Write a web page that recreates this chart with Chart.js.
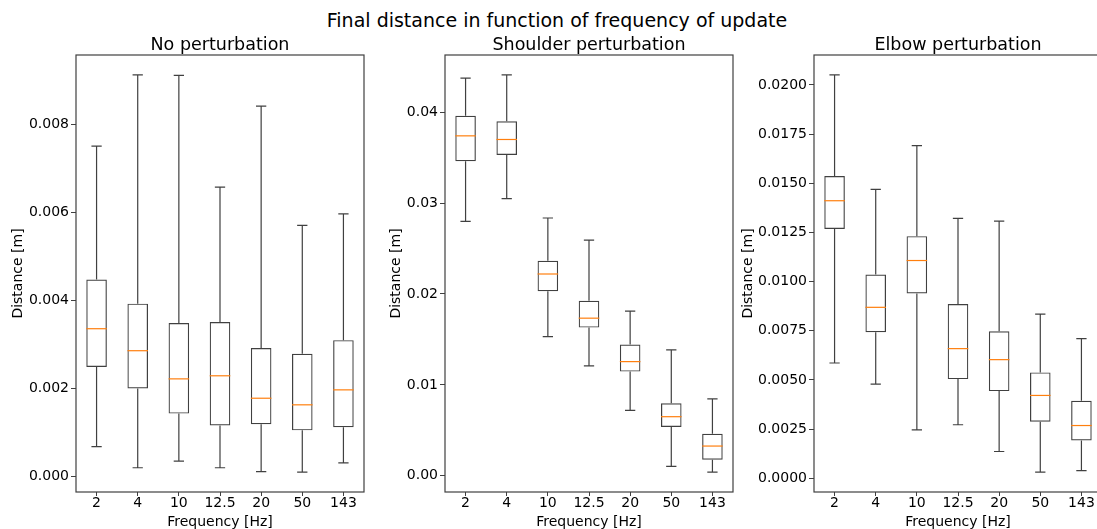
<!DOCTYPE html>
<html>
<head>
<meta charset="utf-8">
<script src="https://cdn.jsdelivr.net/npm/chart.js@4.4.0/dist/chart.umd.min.js"></script>
<style>
    body{
        margin:0;
        width:1097px;
        height:529px;
        overflow:hidden;
        position:relative;
        background:#fff;
        font-family:"DejaVu Sans", sans-serif;
    }
    #suptitle{
        position:absolute;
        top:9px;
        left:0;
        width:1114px;
        text-align:center;
        font-size:19px;
        color:#000;
    }
    .panel{ position:absolute; top:0; width:369px; height:529px; }
</style>
</head>
<body>
<div id="suptitle">Final distance in function of frequency of update</div>
<div class="panel" style="left:0px"><canvas id="chart1" width="369" height="529"></canvas></div>
<div class="panel" style="left:369px"><canvas id="chart2" width="369" height="529"></canvas></div>
<div class="panel" style="left:738px"><canvas id="chart3" width="369" height="529"></canvas></div>

<script>
    // update frequencies (x categories)
    const freqLabels = ['2', '4', '10', '12.5', '20', '50', '143']

    // No perturbation: whisker ends, quartiles, median
    const noMin = [0.00068, 0.00020, 0.00035, 0.00020, 0.00011, 0.00010, 0.00031]
    const noQ1  = [0.00249, 0.00200, 0.00143, 0.00116, 0.00119, 0.00105, 0.00112]
    const noMed = [0.00336, 0.00286, 0.00222, 0.00229, 0.00178, 0.00163, 0.00197]
    const noQ3  = [0.00448, 0.00393, 0.00349, 0.00351, 0.00292, 0.00279, 0.00310]
    const noMax = [0.00751, 0.00913, 0.00912, 0.00658, 0.00842, 0.00571, 0.00597]
    const noTicks = [0, 0.002, 0.004, 0.006, 0.008]

    // Shoulder perturbation
    const shMin = [0.0280, 0.0305, 0.0153, 0.0121, 0.0072, 0.00103, 0.0004]
    const shQ1  = [0.0346, 0.0353, 0.0203, 0.0163, 0.01146, 0.00536, 0.00176]
    const shMed = [0.0374, 0.0370, 0.0222, 0.01734, 0.01256, 0.0065, 0.00327]
    const shQ3  = [0.0396, 0.0390, 0.02365, 0.01925, 0.01444, 0.00797, 0.00463]
    const shMax = [0.04375, 0.04411, 0.02836, 0.02593, 0.01811, 0.01385, 0.00845]
    const shTicks = [0, 0.01, 0.02, 0.03, 0.04]

    // Elbow perturbation
    const elMin = [0.00586, 0.00479, 0.00246, 0.00272, 0.00136, 0.00031, 0.00039]
    const elQ1  = [0.01267, 0.00742, 0.00939, 0.00504, 0.00443, 0.00287, 0.00192]
    const elMed = [0.01411, 0.00869, 0.01107, 0.00659, 0.00603, 0.00421, 0.00268]
    const elQ3  = [0.01537, 0.01036, 0.01231, 0.00886, 0.00747, 0.00538, 0.00394]
    const elMax = [0.02051, 0.01469, 0.01691, 0.01321, 0.01307, 0.00834, 0.0071]
    const elTicks = [0, 0.0025, 0.005, 0.0075, 0.01, 0.0125, 0.015, 0.0175, 0.02]

    const lineColor = '#404040'
    const medianColor = '#ff7f0e'
    const fontFamily = '"DejaVu Sans", sans-serif'

    function makePanel(id, title, mins, q1, med, q3, maxs, ticks, decimals, yTitlePad) {
        const lo = Math.min(...mins), hi = Math.max(...maxs)
        const margin = (hi - lo) * 0.05

        // whiskers, caps, medians, frame and panel title
        const boxPlugin = {
            id: 'boxExtras',
            afterDatasetsDraw(chart) {
                const ctx = chart.ctx
                const x = chart.scales.x, y = chart.scales.y
                const meta = chart.getDatasetMeta(0)
                ctx.save()
                meta.data.forEach((bar, i) => {
                    const cx = bar.x
                    const half = bar.width / 2
                    ctx.strokeStyle = lineColor
                    ctx.lineWidth = 1.2
                    ctx.beginPath()
                    ctx.moveTo(cx, y.getPixelForValue(q3[i]))
                    ctx.lineTo(cx, y.getPixelForValue(maxs[i]))
                    ctx.moveTo(cx, y.getPixelForValue(q1[i]))
                    ctx.lineTo(cx, y.getPixelForValue(mins[i]))
                    ctx.moveTo(cx - half / 2, y.getPixelForValue(maxs[i]))
                    ctx.lineTo(cx + half / 2, y.getPixelForValue(maxs[i]))
                    ctx.moveTo(cx - half / 2, y.getPixelForValue(mins[i]))
                    ctx.lineTo(cx + half / 2, y.getPixelForValue(mins[i]))
                    ctx.stroke()
                    ctx.strokeStyle = medianColor
                    ctx.lineWidth = 1.2
                    ctx.beginPath()
                    ctx.moveTo(cx - half, y.getPixelForValue(med[i]))
                    ctx.lineTo(cx + half, y.getPixelForValue(med[i]))
                    ctx.stroke()
                })
                const a = chart.chartArea
                ctx.strokeStyle = lineColor
                ctx.lineWidth = 1.2
                ctx.strokeRect(a.left, a.top, a.right - a.left, a.bottom - a.top)
                ctx.fillStyle = '#000'
                ctx.font = '17.5px ' + fontFamily
                ctx.textAlign = 'center'
                ctx.textBaseline = 'alphabetic'
                ctx.fillText(title, (a.left + a.right) / 2, a.top - 5)
                ctx.restore()
            }
        }

        return new Chart(document.getElementById(id).getContext('2d'), {
            type: 'bar',
            data: {
                labels: freqLabels,
                datasets: [{
                    label: title,
                    data: q1.map((v, i) => [v, q3[i]]),
                    backgroundColor: 'rgba(255,255,255,0)',
                    borderColor: lineColor,
                    borderWidth: 1.2,
                    borderSkipped: false,
                    barPercentage: 0.5,
                    categoryPercentage: 1.0
                }]
            },
            options: {
                responsive: false,
                maintainAspectRatio: false,
                animation: false,
                layout: { padding: { top: 55, right: 5, left: 0, bottom: 0 } },
                plugins: {
                    legend: { display: false },
                    tooltip: { enabled: false }
                },
                scales: {
                    x: {
                        type: 'category',
                        offset: true,
                        afterFit: s => { s.height = 37 },
                        grid: { offset: false, drawOnChartArea: false, drawTicks: true, tickLength: 4, color: lineColor },
                        border: { display: false },
                        ticks: { color: '#000', padding: 0, font: { family: fontFamily, size: 14, lineHeight: 1.0 } },
                        title: { display: true, text: 'Frequency [Hz]', color: '#000', padding: 0,
                                 font: { family: fontFamily, size: 14, lineHeight: 1.0 } }
                    },
                    y: {
                        type: 'linear',
                        min: lo - margin,
                        max: hi + margin,
                        afterFit: s => { s.width = 76 },
                        afterBuildTicks: s => { s.ticks = ticks.map(v => ({ value: v })) },
                        grid: { drawOnChartArea: false, drawTicks: true, tickLength: 5, color: lineColor },
                        border: { display: false },
                        ticks: { color: '#000', padding: 2, font: { family: fontFamily, size: 14 },
                                 callback: v => Number(v).toFixed(decimals) },
                        title: { display: true, text: 'Distance [m]', color: '#000',
                                 padding: { top: yTitlePad, bottom: 0 },
                                 font: { family: fontFamily, size: 14, lineHeight: 1.0 } }
                    }
                }
            },
            plugins: [boxPlugin]
        })
    }

    makePanel('chart1', 'No perturbation', noMin, noQ1, noMed, noQ3, noMax, noTicks, 3, 11)
    makePanel('chart2', 'Shoulder perturbation', shMin, shQ1, shMed, shQ3, shMax, shTicks, 2, 20)
    makePanel('chart3', 'Elbow perturbation', elMin, elQ1, elMed, elQ3, elMax, elTicks, 4, 3)
</script>
</body>
</html>
